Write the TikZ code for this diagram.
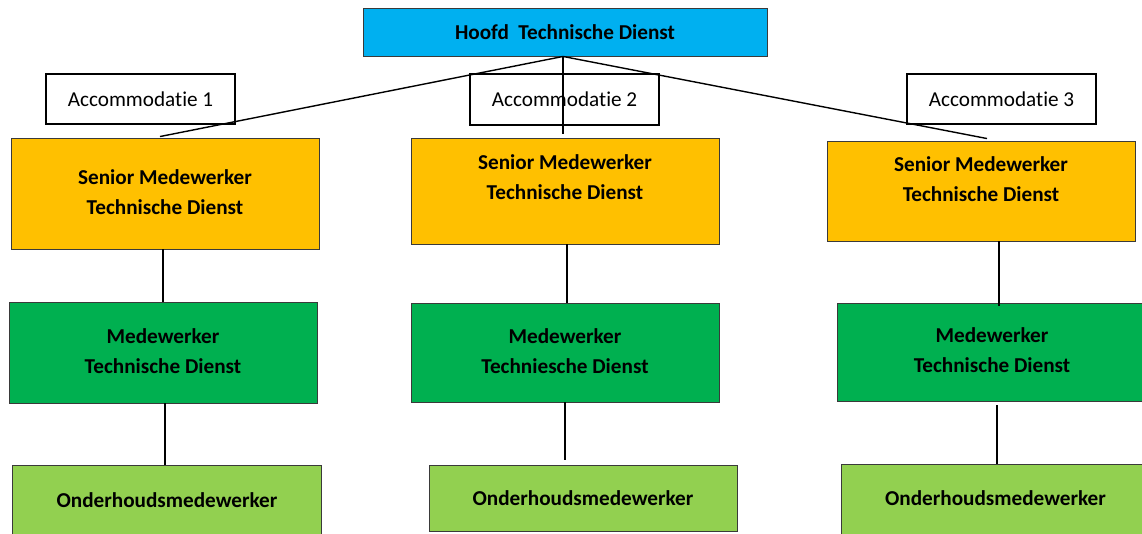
\documentclass[tikz,border=0pt]{standalone}
\usepackage{fontspec}
\setmainfont{Carlito}[Ligatures=NoCommon]
\usetikzlibrary{calc}
\definecolor{cyanbox}{HTML}{00B0F0}
\definecolor{orangebox}{HTML}{FFC000}
\definecolor{greenbox}{HTML}{00B050}
\definecolor{lightgreenbox}{HTML}{92D050}
\definecolor{boxborder}{HTML}{3A3A3A}
\begin{document}
\begin{tikzpicture}[x=1pt,y=-1pt,
  box/.style={draw=boxborder,line width=0.9pt,rectangle,inner sep=0pt},
  accbox/.style={draw=black,line width=1.4pt,rectangle,inner sep=0pt,minimum width=189pt,minimum height=50pt,font=\fontsize{21.2}{24}\selectfont},
  txt/.style={align=center,inner sep=0pt,font=\fontsize{21.2}{30}\selectfont\bfseries},
  conn/.style={line width=1.4pt,black}]
\useasboundingbox (0,0) rectangle (1142,533);
\clip (0,0) rectangle (1142,533);
% top
\node[box,fill=cyanbox,minimum width=404pt,minimum height=48pt] (top) at (565,32) {};
\node[txt] (topt) at (565,32) {Hoofd\ \ Technische Dienst};
% accommodatie labels
\node[accbox] (acc1) at (140.5,99) {Accommodatie 1};
\node[accbox,minimum height=51pt] (acc2) at (564.5,99.5) {Accommodatie 2};
\node[accbox] (acc3) at (1001.5,99) {Accommodatie 3};
% senior
\node[box,fill=orangebox,minimum width=308pt,minimum height=111pt] (sen1) at (165,193.5) {};
\node[txt] (sen1t) at (165,192) {Senior Medewerker\\Technische Dienst};
\node[box,fill=orangebox,minimum width=308pt,minimum height=106pt] (sen2) at (565,191) {};
\node[txt] (sen2t) at (565,177) {Senior Medewerker\\Technische Dienst};
\node[box,fill=orangebox,minimum width=308pt,minimum height=100pt] (sen3) at (981,191) {};
\node[txt] (sen3t) at (981,179) {Senior Medewerker\\Technische Dienst};
% medewerker
\node[box,fill=greenbox,minimum width=308pt,minimum height=101pt] (med1) at (163,352.5) {};
\node[txt] (med1t) at (163,351.5) {Medewerker\\Technische Dienst};
\node[box,fill=greenbox,minimum width=308pt,minimum height=99pt] (med2) at (565,352.5) {};
\node[txt] (med2t) at (565,351.5) {Medewerker\\Techniesche Dienst};
\node[box,fill=greenbox,minimum width=320pt,minimum height=98pt] (med3) at (997,352) {};
\node[txt] (med3t) at (992,350) {Medewerker\\Technische Dienst};
% onderhoud
\node[box,fill=lightgreenbox,minimum width=309pt,minimum height=80pt] (ond1) at (167,505) {};
\node[txt] (ond1t) at (167,500) {Onderhoudsmedewerker};
\node[box,fill=lightgreenbox,minimum width=308pt,minimum height=66pt] (ond2) at (583,498) {};
\node[txt] (ond2t) at (583,498) {Onderhoudsmedewerker};
\node[box,fill=lightgreenbox,minimum width=320pt,minimum height=80pt] (ond3) at (1001,504) {};
\node[txt] (ond3t) at (995.5,498) {Onderhoudsmedewerker};
% connectors
\coordinate (apex) at ($(top.south)+(-2,0)$);
\draw[conn] (apex) -- ($(sen1.north)+(-5,-1)$);
\draw[conn] (apex) -- ($(sen3.north)+(6,-2)$);
\draw[conn] (apex) -- ($(sen2.north)+(-2,-4)$);
\draw[conn] ($(sen1.south)+(-2,0)$) -- ($(med1.north)+(0,0)$);
\draw[conn] ($(med1.south)+(2,0)$) -- ($(med1.south |- ond1.north)+(2,0)$);
\draw[conn] ($(sen2.south)+(2,0)$) -- ($(sen2.south |- med2.north)+(2,0)$);
\draw[conn] (med2.south) -- ($(med2.south |- ond2.north)+(0,-5)$);
\draw[conn] ($(sen3.south)+(18,0)$) -- ($(sen3.south |- med3.north)+(18,3)$);
\draw[conn] ($(med3.south)+(0,4)$) -- ($(med3.south |- ond3.north)+(0,0)$);
\end{tikzpicture}
\end{document}
